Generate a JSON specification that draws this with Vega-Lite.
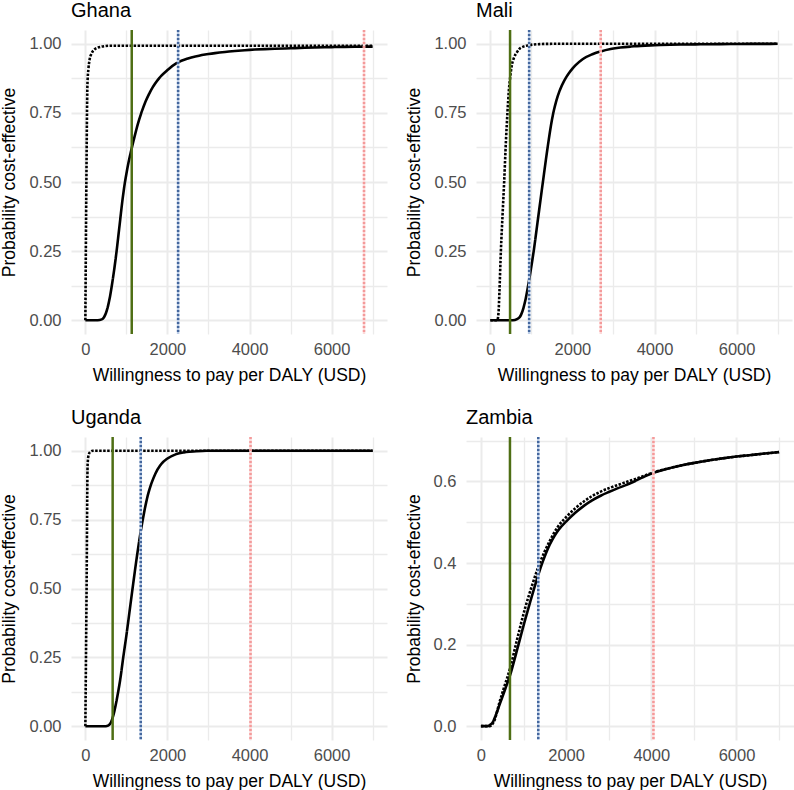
{
  "$schema": "https://vega.github.io/schema/vega-lite/v6.json",
  "padding": {"left": 0, "top": 0, "right": 0, "bottom": 0},
  "background": "white",
  "config": {
    "view": {"stroke": null},
    "font": "Liberation Sans",
    "axis": {"domain": false, "ticks": false, "gridColor": "#EBEBEB", "labelFont": "Liberation Sans", "labelFontSize": 16.5, "labelColor": "#4D4D4D", "titleFont": "Liberation Sans", "titleFontSize": 17.5, "titleFontWeight": "normal", "titleColor": "#000000"},
    "axisX": {"labelPadding": 7, "titlePadding": 9},
    "axisY": {"labelPadding": 10, "titlePadding": 10},
    "title": {"font": "Liberation Sans", "fontSize": 20, "fontWeight": "normal", "color": "#000000", "anchor": "start", "frame": "group", "offset": 8}
  },
  "datasets": {
    "thresholds": [
      {"country": "Ghana", "type": "half", "wtp": 1130}, {"country": "Ghana", "type": "gdp", "wtp": 2260}, {"country": "Ghana", "type": "three", "wtp": 6790},
      {"country": "Mali", "type": "half", "wtp": 480}, {"country": "Mali", "type": "gdp", "wtp": 945}, {"country": "Mali", "type": "three", "wtp": 2690},
      {"country": "Uganda", "type": "half", "wtp": 665}, {"country": "Uganda", "type": "gdp", "wtp": 1350}, {"country": "Uganda", "type": "three", "wtp": 4025},
      {"country": "Zambia", "type": "half", "wtp": 682}, {"country": "Zambia", "type": "gdp", "wtp": 1346}, {"country": "Zambia", "type": "three", "wtp": 4050}
    ],
    "curves": [
      {"country":"Ghana","series":"solid","wtp":0,"prob":0},{"country":"Ghana","series":"solid","wtp":300,"prob":0},{"country":"Ghana","series":"solid","wtp":400,"prob":0.003},{"country":"Ghana","series":"solid","wtp":450,"prob":0.01},{"country":"Ghana","series":"solid","wtp":500,"prob":0.025},{"country":"Ghana","series":"solid","wtp":550,"prob":0.05},{"country":"Ghana","series":"solid","wtp":600,"prob":0.085},{"country":"Ghana","series":"solid","wtp":650,"prob":0.13},{"country":"Ghana","series":"solid","wtp":700,"prob":0.18},{"country":"Ghana","series":"solid","wtp":761,"prob":0.25},{"country":"Ghana","series":"solid","wtp":800,"prob":0.3},{"country":"Ghana","series":"solid","wtp":850,"prob":0.365},{"country":"Ghana","series":"solid","wtp":900,"prob":0.43},{"country":"Ghana","series":"solid","wtp":950,"prob":0.485},{"country":"Ghana","series":"solid","wtp":1000,"prob":0.53},{"country":"Ghana","series":"solid","wtp":1050,"prob":0.57},{"country":"Ghana","series":"solid","wtp":1100,"prob":0.603},{"country":"Ghana","series":"solid","wtp":1134,"prob":0.625},{"country":"Ghana","series":"solid","wtp":1200,"prob":0.665},{"country":"Ghana","series":"solid","wtp":1280,"prob":0.71},{"country":"Ghana","series":"solid","wtp":1352,"prob":0.745},{"country":"Ghana","series":"solid","wtp":1450,"prob":0.785},{"country":"Ghana","series":"solid","wtp":1550,"prob":0.818},{"country":"Ghana","series":"solid","wtp":1650,"prob":0.845},{"country":"Ghana","series":"solid","wtp":1800,"prob":0.876},{"country":"Ghana","series":"solid","wtp":2000,"prob":0.905},{"country":"Ghana","series":"solid","wtp":2259,"prob":0.933},{"country":"Ghana","series":"solid","wtp":2500,"prob":0.947},{"country":"Ghana","series":"solid","wtp":2770,"prob":0.957},{"country":"Ghana","series":"solid","wtp":3000,"prob":0.963},{"country":"Ghana","series":"solid","wtp":3500,"prob":0.972},{"country":"Ghana","series":"solid","wtp":4000,"prob":0.978},{"country":"Ghana","series":"solid","wtp":5000,"prob":0.984},{"country":"Ghana","series":"solid","wtp":6000,"prob":0.988},{"country":"Ghana","series":"solid","wtp":7000,"prob":0.99},
      {"country":"Ghana","series":"dotted","wtp":0,"prob":0},{"country":"Ghana","series":"dotted","wtp":25,"prob":0.5},{"country":"Ghana","series":"dotted","wtp":50,"prob":0.85},{"country":"Ghana","series":"dotted","wtp":75,"prob":0.91},{"country":"Ghana","series":"dotted","wtp":100,"prob":0.94},{"country":"Ghana","series":"dotted","wtp":150,"prob":0.965},{"country":"Ghana","series":"dotted","wtp":200,"prob":0.977},{"country":"Ghana","series":"dotted","wtp":300,"prob":0.986},{"country":"Ghana","series":"dotted","wtp":400,"prob":0.99},{"country":"Ghana","series":"dotted","wtp":600,"prob":0.993},{"country":"Ghana","series":"dotted","wtp":7000,"prob":0.993},
      {"country":"Mali","series":"solid","wtp":0,"prob":0},{"country":"Mali","series":"solid","wtp":550,"prob":0},{"country":"Mali","series":"solid","wtp":650,"prob":0.004},{"country":"Mali","series":"solid","wtp":750,"prob":0.02},{"country":"Mali","series":"solid","wtp":850,"prob":0.07},{"country":"Mali","series":"solid","wtp":944,"prob":0.145},{"country":"Mali","series":"solid","wtp":1000,"prob":0.196},{"country":"Mali","series":"solid","wtp":1056,"prob":0.25},{"country":"Mali","series":"solid","wtp":1150,"prob":0.355},{"country":"Mali","series":"solid","wtp":1280,"prob":0.5},{"country":"Mali","series":"solid","wtp":1400,"prob":0.63},{"country":"Mali","series":"solid","wtp":1450,"prob":0.68},{"country":"Mali","series":"solid","wtp":1520,"prob":0.74},{"country":"Mali","series":"solid","wtp":1600,"prob":0.79},{"country":"Mali","series":"solid","wtp":1700,"prob":0.835},{"country":"Mali","series":"solid","wtp":1832,"prob":0.875},{"country":"Mali","series":"solid","wtp":2000,"prob":0.91},{"country":"Mali","series":"solid","wtp":2256,"prob":0.945},{"country":"Mali","series":"solid","wtp":2500,"prob":0.963},{"country":"Mali","series":"solid","wtp":2680,"prob":0.972},{"country":"Mali","series":"solid","wtp":3000,"prob":0.983},{"country":"Mali","series":"solid","wtp":3500,"prob":0.991},{"country":"Mali","series":"solid","wtp":4000,"prob":0.995},{"country":"Mali","series":"solid","wtp":5000,"prob":0.998},{"country":"Mali","series":"solid","wtp":7000,"prob":1.0},
      {"country":"Mali","series":"dotted","wtp":0,"prob":0},{"country":"Mali","series":"dotted","wtp":170,"prob":0},{"country":"Mali","series":"dotted","wtp":200,"prob":0.03},{"country":"Mali","series":"dotted","wtp":220,"prob":0.1},{"country":"Mali","series":"dotted","wtp":256,"prob":0.25},{"country":"Mali","series":"dotted","wtp":300,"prob":0.39},{"country":"Mali","series":"dotted","wtp":336,"prob":0.5},{"country":"Mali","series":"dotted","wtp":380,"prob":0.65},{"country":"Mali","series":"dotted","wtp":416,"prob":0.75},{"country":"Mali","series":"dotted","wtp":450,"prob":0.83},{"country":"Mali","series":"dotted","wtp":480,"prob":0.875},{"country":"Mali","series":"dotted","wtp":520,"prob":0.92},{"country":"Mali","series":"dotted","wtp":576,"prob":0.95},{"country":"Mali","series":"dotted","wtp":650,"prob":0.97},{"country":"Mali","series":"dotted","wtp":736,"prob":0.985},{"country":"Mali","series":"dotted","wtp":944,"prob":0.995},{"country":"Mali","series":"dotted","wtp":1200,"prob":0.999},{"country":"Mali","series":"dotted","wtp":1500,"prob":1.0},{"country":"Mali","series":"dotted","wtp":7000,"prob":1.0},
      {"country":"Uganda","series":"solid","wtp":0,"prob":0},{"country":"Uganda","series":"solid","wtp":500,"prob":0},{"country":"Uganda","series":"solid","wtp":550,"prob":0.002},{"country":"Uganda","series":"solid","wtp":600,"prob":0.008},{"country":"Uganda","series":"solid","wtp":663,"prob":0.03},{"country":"Uganda","series":"solid","wtp":700,"prob":0.05},{"country":"Uganda","series":"solid","wtp":750,"prob":0.085},{"country":"Uganda","series":"solid","wtp":800,"prob":0.125},{"country":"Uganda","series":"solid","wtp":850,"prob":0.17},{"country":"Uganda","series":"solid","wtp":923,"prob":0.25},{"country":"Uganda","series":"solid","wtp":1000,"prob":0.33},{"country":"Uganda","series":"solid","wtp":1075,"prob":0.415},{"country":"Uganda","series":"solid","wtp":1150,"prob":0.5},{"country":"Uganda","series":"solid","wtp":1250,"prob":0.61},{"country":"Uganda","series":"solid","wtp":1352,"prob":0.71},{"country":"Uganda","series":"solid","wtp":1393,"prob":0.745},{"country":"Uganda","series":"solid","wtp":1450,"prob":0.79},{"country":"Uganda","series":"solid","wtp":1500,"prob":0.825},{"country":"Uganda","series":"solid","wtp":1595,"prob":0.875},{"country":"Uganda","series":"solid","wtp":1700,"prob":0.915},{"country":"Uganda","series":"solid","wtp":1850,"prob":0.952},{"country":"Uganda","series":"solid","wtp":2000,"prob":0.972},{"country":"Uganda","series":"solid","wtp":2200,"prob":0.987},{"country":"Uganda","series":"solid","wtp":2400,"prob":0.994},{"country":"Uganda","series":"solid","wtp":2700,"prob":0.998},{"country":"Uganda","series":"solid","wtp":3000,"prob":1.0},{"country":"Uganda","series":"solid","wtp":7000,"prob":1.0},
      {"country":"Uganda","series":"dotted","wtp":0,"prob":0},{"country":"Uganda","series":"dotted","wtp":30,"prob":0.5},{"country":"Uganda","series":"dotted","wtp":55,"prob":0.95},{"country":"Uganda","series":"dotted","wtp":80,"prob":0.985},{"country":"Uganda","series":"dotted","wtp":120,"prob":0.996},{"country":"Uganda","series":"dotted","wtp":180,"prob":1.0},{"country":"Uganda","series":"dotted","wtp":7000,"prob":1.0},
      {"country":"Zambia","series":"solid","wtp":0,"prob":0},{"country":"Zambia","series":"solid","wtp":150,"prob":0},{"country":"Zambia","series":"solid","wtp":200,"prob":0.002},{"country":"Zambia","series":"solid","wtp":291,"prob":0.012},{"country":"Zambia","series":"solid","wtp":350,"prob":0.027},{"country":"Zambia","series":"solid","wtp":449,"prob":0.056},{"country":"Zambia","series":"solid","wtp":550,"prob":0.085},{"country":"Zambia","series":"solid","wtp":685,"prob":0.125},{"country":"Zambia","series":"solid","wtp":882,"prob":0.2},{"country":"Zambia","series":"solid","wtp":1039,"prob":0.261},{"country":"Zambia","series":"solid","wtp":1200,"prob":0.32},{"country":"Zambia","series":"solid","wtp":1346,"prob":0.371},{"country":"Zambia","series":"solid","wtp":1433,"prob":0.398},{"country":"Zambia","series":"solid","wtp":1630,"prob":0.448},{"country":"Zambia","series":"solid","wtp":1800,"prob":0.478},{"country":"Zambia","series":"solid","wtp":1984,"prob":0.5},{"country":"Zambia","series":"solid","wtp":2200,"prob":0.522},{"country":"Zambia","series":"solid","wtp":2417,"prob":0.54},{"country":"Zambia","series":"solid","wtp":2600,"prob":0.553},{"country":"Zambia","series":"solid","wtp":2811,"prob":0.565},{"country":"Zambia","series":"solid","wtp":3000,"prob":0.574},{"country":"Zambia","series":"solid","wtp":3205,"prob":0.583},{"country":"Zambia","series":"solid","wtp":3400,"prob":0.591},{"country":"Zambia","series":"solid","wtp":3598,"prob":0.6},{"country":"Zambia","series":"solid","wtp":3800,"prob":0.61},{"country":"Zambia","series":"solid","wtp":4047,"prob":0.621},{"country":"Zambia","series":"solid","wtp":4400,"prob":0.632},{"country":"Zambia","series":"solid","wtp":4780,"prob":0.641},{"country":"Zambia","series":"solid","wtp":5200,"prob":0.649},{"country":"Zambia","series":"solid","wtp":5567,"prob":0.655},{"country":"Zambia","series":"solid","wtp":6000,"prob":0.661},{"country":"Zambia","series":"solid","wtp":6354,"prob":0.665},{"country":"Zambia","series":"solid","wtp":7000,"prob":0.672},
      {"country":"Zambia","series":"dotted","wtp":0,"prob":0},{"country":"Zambia","series":"dotted","wtp":200,"prob":0},{"country":"Zambia","series":"dotted","wtp":300,"prob":0.01},{"country":"Zambia","series":"dotted","wtp":449,"prob":0.063},{"country":"Zambia","series":"dotted","wtp":550,"prob":0.097},{"country":"Zambia","series":"dotted","wtp":685,"prob":0.142},{"country":"Zambia","series":"dotted","wtp":843,"prob":0.21},{"country":"Zambia","series":"dotted","wtp":1039,"prob":0.29},{"country":"Zambia","series":"dotted","wtp":1200,"prob":0.345},{"country":"Zambia","series":"dotted","wtp":1346,"prob":0.39},{"country":"Zambia","series":"dotted","wtp":1630,"prob":0.457},{"country":"Zambia","series":"dotted","wtp":1800,"prob":0.488},{"country":"Zambia","series":"dotted","wtp":2024,"prob":0.515},{"country":"Zambia","series":"dotted","wtp":2417,"prob":0.551},{"country":"Zambia","series":"dotted","wtp":2811,"prob":0.575},{"country":"Zambia","series":"dotted","wtp":3205,"prob":0.591},{"country":"Zambia","series":"dotted","wtp":3598,"prob":0.605},{"country":"Zambia","series":"dotted","wtp":4047,"prob":0.622},{"country":"Zambia","series":"dotted","wtp":4400,"prob":0.632},{"country":"Zambia","series":"dotted","wtp":4780,"prob":0.641},{"country":"Zambia","series":"dotted","wtp":5200,"prob":0.649},{"country":"Zambia","series":"dotted","wtp":5567,"prob":0.655},{"country":"Zambia","series":"dotted","wtp":6000,"prob":0.661},{"country":"Zambia","series":"dotted","wtp":6354,"prob":0.665},{"country":"Zambia","series":"dotted","wtp":7000,"prob":0.672}
    ]
  },
  "spacing": 23,
  "vconcat": [
    {"spacing": 18, "hconcat": [
      {"title": "Ghana", "width": 316, "height": 304,
       "encoding": {"x": {"field": "wtp", "type": "quantitative", "scale": {"domain": [-350, 7350], "nice": false, "zero": false}, "axis": {"title": "Willingness to pay per DALY (USD)", "values": [0,1000,2000,3000,4000,5000,6000,7000], "format": "d", "labelExpr": "datum.value % 2000 === 0 ? datum.label : ''", "gridWidth": {"condition": {"test": "datum.value % 2000 === 0", "value": 2}, "value": 1.3}}}},
       "layer": [
         {"data": {"name": "curves"}, "transform": [{"filter": "datum.country === 'Ghana'"}], "mark": {"type": "line", "color": "black", "strokeWidth": 2.6, "interpolate": "monotone"},
          "encoding": {"y": {"field": "prob", "type": "quantitative", "scale": {"domain": [-0.05, 1.05], "nice": false, "zero": false}, "axis": {"title": "Probability cost-effective", "values": [0,0.125,0.25,0.375,0.5,0.625,0.75,0.875,1], "labelExpr": "round(datum.value*8) % 2 === 0 ? format(datum.value, '.2f') : ''", "gridWidth": {"condition": {"test": "round(datum.value*8) % 2 === 0", "value": 2}, "value": 1.3}}},
            "strokeDash": {"field": "series", "type": "nominal", "scale": {"domain": ["solid", "dotted"], "range": [[10, 0], [2.5, 1.5]]}, "legend": null}}},
         {"data": {"name": "thresholds"}, "transform": [{"filter": "datum.country === 'Ghana' && datum.type === 'half'"}], "mark": {"type": "rule", "color": "#4E6E14", "strokeWidth": 2.5}, "encoding": {}},
         {"data": {"name": "thresholds"}, "transform": [{"filter": "datum.country === 'Ghana' && datum.type === 'gdp'"}], "mark": {"type": "rule", "color": "#BCCDE6", "strokeWidth": 2.5}, "encoding": {}},
         {"data": {"name": "thresholds"}, "transform": [{"filter": "datum.country === 'Ghana' && datum.type === 'gdp'"}], "mark": {"type": "rule", "color": "#44679E", "strokeWidth": 2.5, "strokeDash": [2, 2]}, "encoding": {}},
         {"data": {"name": "thresholds"}, "transform": [{"filter": "datum.country === 'Ghana' && datum.type === 'three'"}], "mark": {"type": "rule", "color": "#FCD9D9", "strokeWidth": 2.5}, "encoding": {}},
         {"data": {"name": "thresholds"}, "transform": [{"filter": "datum.country === 'Ghana' && datum.type === 'three'"}], "mark": {"type": "rule", "color": "#F49A9A", "strokeWidth": 2.5, "strokeDash": [2, 2]}, "encoding": {}}
       ]},
      {"title": "Mali", "width": 316, "height": 304,
       "encoding": {"x": {"field": "wtp", "type": "quantitative", "scale": {"domain": [-350, 7350], "nice": false, "zero": false}, "axis": {"title": "Willingness to pay per DALY (USD)", "values": [0,1000,2000,3000,4000,5000,6000,7000], "format": "d", "labelExpr": "datum.value % 2000 === 0 ? datum.label : ''", "gridWidth": {"condition": {"test": "datum.value % 2000 === 0", "value": 2}, "value": 1.3}}}},
       "layer": [
         {"data": {"name": "curves"}, "transform": [{"filter": "datum.country === 'Mali'"}], "mark": {"type": "line", "color": "black", "strokeWidth": 2.6, "interpolate": "monotone"},
          "encoding": {"y": {"field": "prob", "type": "quantitative", "scale": {"domain": [-0.05, 1.05], "nice": false, "zero": false}, "axis": {"title": "Probability cost-effective", "values": [0,0.125,0.25,0.375,0.5,0.625,0.75,0.875,1], "labelExpr": "round(datum.value*8) % 2 === 0 ? format(datum.value, '.2f') : ''", "gridWidth": {"condition": {"test": "round(datum.value*8) % 2 === 0", "value": 2}, "value": 1.3}}},
            "strokeDash": {"field": "series", "type": "nominal", "scale": {"domain": ["solid", "dotted"], "range": [[10, 0], [2.5, 1.5]]}, "legend": null}}},
         {"data": {"name": "thresholds"}, "transform": [{"filter": "datum.country === 'Mali' && datum.type === 'half'"}], "mark": {"type": "rule", "color": "#4E6E14", "strokeWidth": 2.5}, "encoding": {}},
         {"data": {"name": "thresholds"}, "transform": [{"filter": "datum.country === 'Mali' && datum.type === 'gdp'"}], "mark": {"type": "rule", "color": "#BCCDE6", "strokeWidth": 2.5}, "encoding": {}},
         {"data": {"name": "thresholds"}, "transform": [{"filter": "datum.country === 'Mali' && datum.type === 'gdp'"}], "mark": {"type": "rule", "color": "#44679E", "strokeWidth": 2.5, "strokeDash": [2, 2]}, "encoding": {}},
         {"data": {"name": "thresholds"}, "transform": [{"filter": "datum.country === 'Mali' && datum.type === 'three'"}], "mark": {"type": "rule", "color": "#FCD9D9", "strokeWidth": 2.5}, "encoding": {}},
         {"data": {"name": "thresholds"}, "transform": [{"filter": "datum.country === 'Mali' && datum.type === 'three'"}], "mark": {"type": "rule", "color": "#F49A9A", "strokeWidth": 2.5, "strokeDash": [2, 2]}, "encoding": {}}
       ]}
    ]},
    {"spacing": 18, "hconcat": [
      {"title": "Uganda", "width": 316, "height": 303,
       "encoding": {"x": {"field": "wtp", "type": "quantitative", "scale": {"domain": [-350, 7350], "nice": false, "zero": false}, "axis": {"title": "Willingness to pay per DALY (USD)", "values": [0,1000,2000,3000,4000,5000,6000,7000], "format": "d", "labelExpr": "datum.value % 2000 === 0 ? datum.label : ''", "gridWidth": {"condition": {"test": "datum.value % 2000 === 0", "value": 2}, "value": 1.3}}}},
       "layer": [
         {"data": {"name": "curves"}, "transform": [{"filter": "datum.country === 'Uganda'"}], "mark": {"type": "line", "color": "black", "strokeWidth": 2.6, "interpolate": "monotone"},
          "encoding": {"y": {"field": "prob", "type": "quantitative", "scale": {"domain": [-0.05, 1.05], "nice": false, "zero": false}, "axis": {"title": "Probability cost-effective", "values": [0,0.125,0.25,0.375,0.5,0.625,0.75,0.875,1], "labelExpr": "round(datum.value*8) % 2 === 0 ? format(datum.value, '.2f') : ''", "gridWidth": {"condition": {"test": "round(datum.value*8) % 2 === 0", "value": 2}, "value": 1.3}}},
            "strokeDash": {"field": "series", "type": "nominal", "scale": {"domain": ["solid", "dotted"], "range": [[10, 0], [2.5, 1.5]]}, "legend": null}}},
         {"data": {"name": "thresholds"}, "transform": [{"filter": "datum.country === 'Uganda' && datum.type === 'half'"}], "mark": {"type": "rule", "color": "#4E6E14", "strokeWidth": 2.5}, "encoding": {}},
         {"data": {"name": "thresholds"}, "transform": [{"filter": "datum.country === 'Uganda' && datum.type === 'gdp'"}], "mark": {"type": "rule", "color": "#BCCDE6", "strokeWidth": 2.5}, "encoding": {}},
         {"data": {"name": "thresholds"}, "transform": [{"filter": "datum.country === 'Uganda' && datum.type === 'gdp'"}], "mark": {"type": "rule", "color": "#44679E", "strokeWidth": 2.5, "strokeDash": [2, 2]}, "encoding": {}},
         {"data": {"name": "thresholds"}, "transform": [{"filter": "datum.country === 'Uganda' && datum.type === 'three'"}], "mark": {"type": "rule", "color": "#FCD9D9", "strokeWidth": 2.5}, "encoding": {}},
         {"data": {"name": "thresholds"}, "transform": [{"filter": "datum.country === 'Uganda' && datum.type === 'three'"}], "mark": {"type": "rule", "color": "#F49A9A", "strokeWidth": 2.5, "strokeDash": [2, 2]}, "encoding": {}}
       ]},
      {"title": "Zambia", "width": 328, "height": 303,
       "encoding": {"x": {"field": "wtp", "type": "quantitative", "scale": {"domain": [-350, 7350], "nice": false, "zero": false}, "axis": {"title": "Willingness to pay per DALY (USD)", "values": [0,1000,2000,3000,4000,5000,6000,7000], "format": "d", "labelExpr": "datum.value % 2000 === 0 ? datum.label : ''", "gridWidth": {"condition": {"test": "datum.value % 2000 === 0", "value": 2}, "value": 1.3}}}},
       "layer": [
         {"data": {"name": "curves"}, "transform": [{"filter": "datum.country === 'Zambia'"}], "mark": {"type": "line", "color": "black", "strokeWidth": 2.6, "interpolate": "monotone"},
          "encoding": {"y": {"field": "prob", "type": "quantitative", "scale": {"domain": [-0.034, 0.709], "nice": false, "zero": false}, "axis": {"title": "Probability cost-effective", "values": [0,0.1,0.2,0.3,0.4,0.5,0.6,0.7], "labelExpr": "round(datum.value*10) % 2 === 0 ? format(datum.value, '.1f') : ''", "gridWidth": {"condition": {"test": "round(datum.value*10) % 2 === 0", "value": 2}, "value": 1.3}}},
            "strokeDash": {"field": "series", "type": "nominal", "scale": {"domain": ["solid", "dotted"], "range": [[10, 0], [2.5, 1.5]]}, "legend": null}}},
         {"data": {"name": "thresholds"}, "transform": [{"filter": "datum.country === 'Zambia' && datum.type === 'half'"}], "mark": {"type": "rule", "color": "#4E6E14", "strokeWidth": 2.5}, "encoding": {}},
         {"data": {"name": "thresholds"}, "transform": [{"filter": "datum.country === 'Zambia' && datum.type === 'gdp'"}], "mark": {"type": "rule", "color": "#BCCDE6", "strokeWidth": 2.5}, "encoding": {}},
         {"data": {"name": "thresholds"}, "transform": [{"filter": "datum.country === 'Zambia' && datum.type === 'gdp'"}], "mark": {"type": "rule", "color": "#44679E", "strokeWidth": 2.5, "strokeDash": [2, 2]}, "encoding": {}},
         {"data": {"name": "thresholds"}, "transform": [{"filter": "datum.country === 'Zambia' && datum.type === 'three'"}], "mark": {"type": "rule", "color": "#FCD9D9", "strokeWidth": 2.5}, "encoding": {}},
         {"data": {"name": "thresholds"}, "transform": [{"filter": "datum.country === 'Zambia' && datum.type === 'three'"}], "mark": {"type": "rule", "color": "#F49A9A", "strokeWidth": 2.5, "strokeDash": [2, 2]}, "encoding": {}}
       ]}
    ]}
  ]
}
